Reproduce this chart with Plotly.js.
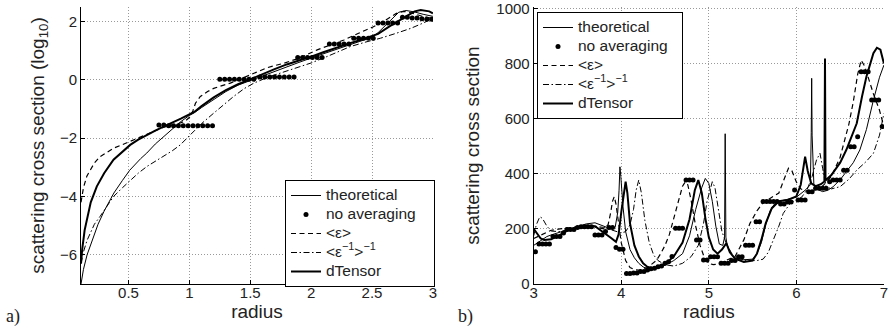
<!DOCTYPE html>
<html>
<head>
<meta charset="utf-8">
<script src="https://cdn.plot.ly/plotly-3.0.1.min.js"></script>
<style>html,body{margin:0;padding:0;background:#fff;}#chart{width:889px;height:332px;}</style>
</head>
<body>
<div id="chart"></div>
<script>
// ---------- panel a) : log10 scattering cross section ----------
const L_theo_x = [0.11,0.13,0.16,0.2,0.25,0.3,0.38,0.45,0.51,0.6,0.65,0.72,0.79,0.86,0.93,1.0,1.04,1.1,1.2,1.3,1.4,1.5,1.6,1.7,1.8,1.9,2.0,2.1,2.2,2.3,2.4,2.5,2.55,2.65,2.72,2.78,2.85,2.92,3.0];
const L_theo_y = [-7.0,-6.5,-6.0,-5.5,-4.95,-4.5,-3.88,-3.45,-3.1,-2.7,-2.51,-2.2,-1.94,-1.68,-1.43,-1.22,-1.13,-0.95,-0.66,-0.4,-0.18,-0.02,0.14,0.3,0.45,0.6,0.75,0.9,1.04,1.18,1.32,1.47,1.62,2.05,2.32,2.38,2.33,2.25,2.18];

const L_dot_x = [0.75,0.79,0.83,0.87,0.91,0.95,0.99,1.03,1.07,1.11,1.15,1.19,1.25,1.29,1.33,1.37,1.41,1.45,1.49,1.53,1.58,1.62,1.66,1.70,1.74,1.78,1.82,1.86,1.89,1.93,1.97,2.01,2.05,2.09,2.15,2.19,2.23,2.27,2.31,2.35,2.39,2.43,2.47,2.51,2.55,2.59,2.63,2.67,2.71,2.75,2.79,2.83,2.87,2.91,2.95,2.99];
const L_dot_y = [-1.55,-1.55,-1.57,-1.57,-1.57,-1.57,-1.57,-1.57,-1.57,-1.57,-1.57,-1.57,0.02,0.02,0.02,0.02,0.02,0.02,0.02,0.02,0.1,0.1,0.1,0.1,0.1,0.1,0.1,0.1,0.77,0.77,0.77,0.77,0.77,0.77,1.23,1.23,1.23,1.23,1.23,1.43,1.43,1.43,1.43,1.43,1.95,1.95,1.95,1.95,1.95,2.15,2.15,2.12,2.12,2.1,2.08,2.08];

const L_eps_x = [0.11,0.13,0.158,0.185,0.22,0.267,0.32,0.38,0.45,0.514,0.58,0.65,0.72,0.79,0.86,0.925,0.97,1.007,1.03,1.05,1.09,1.15,1.2,1.27,1.336,1.43,1.53,1.64,1.775,1.9,2.05,2.17,2.27,2.39,2.5,2.6,2.7,2.76,2.82,2.9,3.0];
const L_eps_y = [-4.2,-3.7,-3.3,-3.08,-2.85,-2.63,-2.48,-2.34,-2.22,-2.11,-2.0,-1.88,-1.74,-1.62,-1.54,-1.48,-1.4,-1.26,-1.05,-0.8,-0.57,-0.4,-0.29,-0.2,-0.11,0.05,0.23,0.42,0.57,0.74,1.03,1.22,1.37,1.6,1.8,2.02,2.28,2.35,2.3,2.2,2.1];

const L_inv_x = [0.11,0.13,0.16,0.185,0.22,0.267,0.32,0.377,0.45,0.514,0.58,0.651,0.72,0.788,0.86,0.925,1.007,1.1,1.2,1.28,1.363,1.45,1.53,1.65,1.828,2.0,2.13,2.23,2.32,2.45,2.57,2.7,2.82,2.92,3.0];
const L_inv_y = [-6.3,-5.9,-5.5,-5.25,-4.95,-4.68,-4.35,-4.0,-3.7,-3.45,-3.2,-2.97,-2.8,-2.63,-2.43,-2.23,-1.88,-1.5,-1.14,-0.85,-0.57,-0.3,-0.11,0.1,0.34,0.58,0.8,0.98,1.14,1.3,1.43,1.6,1.77,1.95,2.11];

const L_dten_x = [0.11,0.12,0.14,0.158,0.19,0.24,0.3,0.377,0.45,0.514,0.58,0.651,0.72,0.788,0.86,0.93,1.0,1.04,1.1,1.2,1.3,1.4,1.5,1.6,1.7,1.8,1.9,2.0,2.1,2.2,2.32,2.4,2.485,2.55,2.65,2.75,2.85,2.9,2.97,3.0];
const L_dten_y = [-6.3,-5.8,-5.15,-4.79,-4.2,-3.65,-3.2,-2.74,-2.45,-2.23,-2.05,-1.88,-1.74,-1.6,-1.47,-1.33,-1.18,-1.1,-0.9,-0.6,-0.35,-0.15,0.02,0.2,0.37,0.53,0.66,0.8,0.95,1.1,1.26,1.36,1.48,1.58,1.85,2.1,2.35,2.4,2.35,2.28];

// ---------- panel b) : scattering cross section ----------
const R_theo_x = [3.0,3.05,3.1,3.15,3.2,3.3,3.4,3.5,3.6,3.7,3.8,3.88,3.93,3.96,3.975,3.985,3.995,4.02,4.05,4.1,4.15,4.2,4.25,4.3,4.35,4.4,4.5,4.6,4.7,4.78,4.85,4.92,4.96,5.0,5.04,5.08,5.12,5.16,5.18,5.187,5.195,5.21,5.25,5.3,5.4,5.5,5.55,5.6,5.65,5.7,5.75,5.8,5.9,6.0,6.1,6.16,6.17,6.175,6.18,6.2,6.25,6.3,6.36,6.42,6.5,6.57,6.65,6.725,6.8,6.88,6.95,7.0];
const R_theo_y = [140,150,163,172,178,188,200,210,218,222,210,200,205,260,340,425,390,280,190,125,95,75,62,55,55,57,68,85,110,175,270,350,383,365,300,210,145,140,170,545,170,140,110,95,88,90,110,150,215,265,290,300,307,315,340,360,550,746,540,360,342,335,340,353,378,407,440,486,560,667,750,794];

const R_dot_x = [3.02,3.06,3.10,3.14,3.18,3.22,3.26,3.30,3.34,3.38,3.42,3.46,3.50,3.54,3.58,3.62,3.66,3.70,3.74,3.78,3.82,3.86,3.90,3.94,3.98,4.02,4.06,4.10,4.14,4.18,4.22,4.26,4.30,4.34,4.38,4.42,4.46,4.50,4.54,4.58,4.62,4.66,4.70,4.74,4.78,4.82,4.86,4.90,4.94,4.98,5.02,5.06,5.10,5.14,5.18,5.22,5.26,5.30,5.34,5.38,5.42,5.46,5.50,5.54,5.58,5.62,5.66,5.70,5.74,5.78,5.82,5.86,5.90,5.94,5.98,6.02,6.06,6.10,6.14,6.18,6.22,6.26,6.30,6.34,6.38,6.42,6.46,6.50,6.54,6.58,6.62,6.66,6.70,6.74,6.78,6.82,6.86,6.90,6.94,6.98];
const R_dot_y = [117,145,145,145,145,172,172,172,185,198,198,198,205,208,208,208,208,178,178,178,190,205,205,132,126,126,38,38,40,40,45,45,51,55,57,63,65,75,81,100,202,202,202,377,377,377,160,160,87,87,99,99,99,75,75,75,85,85,99,99,141,141,141,226,226,299,299,299,299,299,290,290,297,297,341,305,305,305,335,335,347,347,347,347,371,377,377,377,413,413,498,498,534,770,770,770,667,667,667,571];

const R_eps_x = [3.0,3.1,3.2,3.3,3.4,3.5,3.6,3.7,3.8,3.85,3.88,3.9,3.92,3.94,3.97,4.0,4.05,4.1,4.15,4.2,4.3,4.4,4.45,4.5,4.55,4.6,4.65,4.7,4.73,4.76,4.8,4.85,4.9,4.95,5.0,5.05,5.1,5.2,5.3,5.35,5.4,5.47,5.55,5.62,5.7,5.8,5.86,5.91,5.95,6.0,6.05,6.1,6.2,6.3,6.4,6.5,6.6,6.65,6.7,6.74,6.78,6.83,6.88,6.95,7.0];
const R_eps_y = [165,180,195,200,205,208,210,207,200,215,260,300,317,290,220,150,85,60,52,50,60,85,110,140,180,240,300,355,370,360,300,210,140,95,75,70,72,85,100,130,160,220,265,295,310,330,380,420,410,370,345,338,340,355,390,460,580,660,760,812,790,740,690,630,570];

const R_inv_x = [3.0,3.03,3.07,3.1,3.15,3.2,3.3,3.4,3.5,3.6,3.7,3.8,3.9,4.0,4.05,4.1,4.14,4.17,4.2,4.23,4.27,4.32,4.37,4.42,4.5,4.6,4.7,4.8,4.88,4.94,4.98,5.02,5.04,5.07,5.11,5.15,5.2,5.28,5.35,5.45,5.55,5.62,5.68,5.74,5.8,5.85,5.93,6.0,6.06,6.12,6.18,6.23,6.27,6.3,6.34,6.4,6.5,6.6,6.69,6.8,6.88,6.95,7.0];
const R_inv_y = [175,215,244,238,210,192,190,197,203,208,210,205,195,185,190,215,270,340,377,330,230,150,105,85,70,65,75,100,140,220,300,355,371,350,270,190,147,100,88,85,85,90,115,160,210,256,293,305,315,340,390,450,474,420,353,345,353,380,413,445,474,540,619];

const R_dten_x = [3.0,3.04,3.08,3.12,3.2,3.3,3.4,3.5,3.6,3.7,3.8,3.88,3.94,3.97,4.0,4.03,4.05,4.07,4.1,4.15,4.2,4.25,4.3,4.35,4.4,4.5,4.6,4.7,4.78,4.84,4.88,4.92,4.96,5.0,5.05,5.1,5.15,5.2,5.24,5.3,5.4,5.5,5.55,5.6,5.65,5.72,5.8,5.9,6.0,6.05,6.08,6.1,6.13,6.17,6.22,6.28,6.32,6.327,6.333,6.34,6.4,6.5,6.57,6.65,6.69,6.75,6.8,6.88,6.92,6.96,7.0];
const R_dten_y = [200,180,165,160,162,178,196,205,212,210,188,168,153,180,260,340,371,330,220,140,100,75,62,58,60,72,100,150,235,340,377,330,240,170,125,110,125,148,115,92,80,85,110,160,220,275,300,305,318,360,420,462,410,365,355,362,372,818,380,378,395,440,486,550,583,680,752,837,857,850,800];

const LEG_NAMES = ['theoretical', 'no averaging', '&lt;ε&gt;', '&lt;ε<sup>−1</sup>&gt;<sup>−1</sup>', 'dTensor'];
const L_xticks = [0.5, 1, 1.5, 2, 2.5, 3];
const L_yticks = [-6, -4, -2, 0, 2];
const R_xticks = [3, 4, 5, 6, 7];
const R_yticks = [0, 200, 400, 600, 800, 1000];

const FONT = 'Liberation Sans, Arial, Helvetica, sans-serif';
const W = 889, H = 332;
const nm = (s, pad) => '<span style="font-size:15.5px">' + s + (pad || '') + '</span>';

function series(xs, ys, kind, idx, xa, ya, leg, pad) {
  const t = {x: xs, y: ys, xaxis: xa, yaxis: ya, legend: leg, name: nm(LEG_NAMES[idx], idx === 1 ? pad : ''),
             hoverinfo: 'skip', legendrank: idx + 1};
  if (kind === 'dots') {
    t.mode = 'markers';
    t.marker = {symbol: 'circle', size: 5, color: '#000'};
  } else {
    t.mode = 'lines';
    const st = {
      thin: {width: 1.0, dash: 'solid'},
      dash: {width: 1.2, dash: '5px,3.5px'},
      dashdot: {width: 1.0, dash: '6px,2.5px,1.5px,2.5px'},
      thick: {width: 2.0, dash: 'solid'}
    }[kind];
    t.line = {color: '#000', width: st.width, dash: st.dash};
  }
  return t;
}

const PADL = '&nbsp;&nbsp;&nbsp;', PADR = '&nbsp;&nbsp;';
const data = [
  series(L_theo_x, L_theo_y, 'thin', 0, 'x', 'y', 'legend'),
  series(L_dot_x, L_dot_y, 'dots', 1, 'x', 'y', 'legend', PADL),
  series(L_eps_x, L_eps_y, 'dash', 2, 'x', 'y', 'legend'),
  series(L_inv_x, L_inv_y, 'dashdot', 3, 'x', 'y', 'legend'),
  series(L_dten_x, L_dten_y, 'thick', 4, 'x', 'y', 'legend'),
  series(R_theo_x, R_theo_y, 'thin', 0, 'x2', 'y2', 'legend2'),
  series(R_dot_x, R_dot_y, 'dots', 1, 'x2', 'y2', 'legend2', PADR),
  series(R_eps_x, R_eps_y, 'dash', 2, 'x2', 'y2', 'legend2'),
  series(R_inv_x, R_inv_y, 'dashdot', 3, 'x2', 'y2', 'legend2'),
  series(R_dten_x, R_dten_y, 'thick', 4, 'x2', 'y2', 'legend2')
];

const axBase = {
  showline: true, linecolor: '#000', linewidth: 1, mirror: false,
  ticks: 'inside', ticklen: 4, tickwidth: 1, tickcolor: '#000',
  showgrid: true, gridcolor: '#999', gridwidth: 1, griddash: '1px,2px',
  zeroline: false, tickfont: {family: FONT, size: 15, color: '#222'},
  ticklabeloverflow: 'allow',
  automargin: false, fixedrange: true
};
const ytop = 1 - 7 / H, ybot = 1 - 284 / H;
const R_ymax = 1004;

const legBase = {
  xref: 'paper', yref: 'paper', xanchor: 'left', yanchor: 'top',
  bgcolor: '#fff', bordercolor: '#000', borderwidth: 1,
  font: {family: FONT, size: 11, color: '#222'}, itemwidth: 30, tracegroupgap: 0,
  traceorder: 'normal'
};

const layout = {
  width: W, height: H,
  margin: {l: 0, r: 0, t: 0, b: 0, pad: 0, autoexpand: false},
  paper_bgcolor: '#fff', plot_bgcolor: '#fff',
  showlegend: true,
  xaxis: Object.assign({}, axBase, {
    domain: [81 / W, 433 / W], range: [0.11, 3.001], anchor: 'y',
    tickvals: L_xticks, ticktext: L_xticks.map(String), ticklabelstandoff: -5,
    title: {text: 'radius', font: {family: FONT, size: 19, color: '#222'}, standoff: 3}
  }),
  yaxis: Object.assign({}, axBase, {
    domain: [ybot, ytop], range: [-7, 2.5], anchor: 'x',
    tickvals: L_yticks, ticktext: L_yticks.map(v => v < 0 ? '−' + Math.abs(v) : String(v)),
    title: {text: 'scattering cross section (log<sub>10</sub>)', font: {family: FONT, size: 19, color: '#222'}, standoff: 10}
  }),
  xaxis2: Object.assign({}, axBase, {
    domain: [533.7 / W, 884 / W], range: [3, 7.001], anchor: 'y2',
    tickvals: R_xticks, ticktext: R_xticks.map(String), ticklabelstandoff: -5,
    title: {text: 'radius', font: {family: FONT, size: 19, color: '#222'}, standoff: 3}
  }),
  yaxis2: Object.assign({}, axBase, {
    domain: [ybot, 1 - (284 - 275.7 * R_ymax / 1000) / H], range: [0, R_ymax], anchor: 'x2',
    tickvals: R_yticks, ticktext: R_yticks.map(String),
    title: {text: 'scattering cross section', font: {family: FONT, size: 19, color: '#222'}, standoff: 11}
  }),
  legend: Object.assign({}, legBase, {x: 285 / W, y: 1 - 180 / H}),
  legend2: Object.assign({}, legBase, {x: 537 / W, y: 1 - 12 / H}),
  annotations: [
    {text: 'a)', xref: 'paper', yref: 'paper', x: 4 / W, y: 1 - 316 / H, xanchor: 'left', yanchor: 'middle',
     showarrow: false, font: {family: 'Liberation Serif, DejaVu Serif, serif', size: 18, color: '#222'}},
    {text: 'b)', xref: 'paper', yref: 'paper', x: 456 / W, y: 1 - 316 / H, xanchor: 'left', yanchor: 'middle',
     showarrow: false, font: {family: 'Liberation Serif, DejaVu Serif, serif', size: 18, color: '#222'}}
  ]
};

Plotly.newPlot('chart', data, layout, {staticPlot: true, displayModeBar: false});
</script>
</body>
</html>
